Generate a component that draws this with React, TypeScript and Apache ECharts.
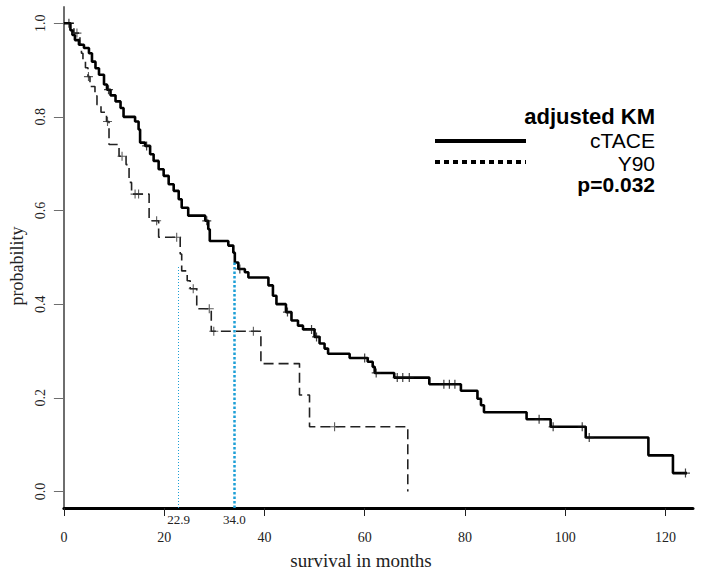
import React, { useEffect, useRef } from "react";
import * as echarts from "echarts";

// ---------- data ----------
const ctaceTimes = [0, 1.3, 1.7, 2.2, 3.0, 4.0, 5.0, 5.6, 6.3, 7.0, 8.0, 8.6, 9.3, 10.3, 11.3, 11.9, 14.2, 14.9, 15.2, 16.2, 17.2, 17.9, 18.9, 19.9, 20.9, 21.9, 22.9, 23.5, 24.8, 28.2, 28.8, 29.1, 32.8, 33.8, 34.1, 34.8, 36.1, 36.8, 40.8, 41.7, 42.4, 44.3, 45.4, 46.7, 47.7, 50.0, 51.0, 52.0, 52.7, 57.0, 60.6, 61.6, 62.0, 65.9, 72.9, 79.2, 82.5, 83.2, 83.8, 92.3, 97.1, 104.1, 116.6, 121.5, 124.3];
const ctaceSurv = [1.0, 0.985, 0.975, 0.964, 0.954, 0.947, 0.936, 0.918, 0.904, 0.89, 0.869, 0.858, 0.846, 0.833, 0.819, 0.8, 0.79, 0.773, 0.745, 0.738, 0.72, 0.706, 0.688, 0.674, 0.656, 0.642, 0.624, 0.606, 0.589, 0.578, 0.56, 0.535, 0.525, 0.51, 0.489, 0.475, 0.468, 0.457, 0.44, 0.418, 0.4, 0.383, 0.365, 0.354, 0.346, 0.33, 0.316, 0.305, 0.294, 0.285, 0.277, 0.266, 0.253, 0.243, 0.229, 0.215, 0.198, 0.184, 0.169, 0.154, 0.138, 0.115, 0.077, 0.039, 0.039];

const ctaceCensorTimes = [1.0, 8.9, 16.5, 28.5, 35.1, 44.6, 49.4, 50.4, 60.0, 62.3, 66.5, 67.6, 68.9, 75.8, 76.9, 78.0, 94.8, 97.6, 103.4, 104.8, 124.0];
const ctaceCensorSurv = [1.0, 0.858, 0.738, 0.578, 0.475, 0.383, 0.346, 0.33, 0.285, 0.253, 0.243, 0.243, 0.243, 0.229, 0.229, 0.229, 0.154, 0.138, 0.138, 0.115, 0.039];

const y90Times = [0, 2.0, 3.2, 3.5, 3.8, 4.3, 4.8, 5.2, 6.2, 6.6, 7.4, 8.5, 9.0, 11.0, 12.4, 13.0, 13.5, 17.0, 18.9, 23.2, 23.5, 24.6, 25.2, 26.5, 29.4, 39.3, 47.0, 49.0, 68.6];
const y90Surv = [1.0, 0.979, 0.955, 0.936, 0.918, 0.905, 0.886, 0.865, 0.845, 0.826, 0.81, 0.79, 0.741, 0.716, 0.698, 0.66, 0.635, 0.578, 0.543, 0.507, 0.471, 0.45, 0.433, 0.39, 0.342, 0.273, 0.206, 0.138, 0.0];

const y90CensorTimes = [2.6, 4.9, 8.7, 11.6, 14.2, 14.9, 18.5, 22.5, 25.8, 29.0, 29.9, 37.8, 54.0];
const y90CensorSurv = [0.979, 0.886, 0.79, 0.716, 0.635, 0.635, 0.578, 0.543, 0.433, 0.39, 0.342, 0.342, 0.138];

const medianTimes = [22.9, 34.0];
const medianTops = [0.482, 0.49];
const medianLabels = ["22.9", "34.0"];

const xTicks = [0, 20, 40, 60, 80, 100, 120];
const yTicks = [0, 0.2, 0.4, 0.6, 0.8, 1.0];
const xMin = 0;
const xMax = 125.5;
const yMin = -0.0355;
const yMax = 1.0347;

const legendTitle = "adjusted KM";
const groupNames = ["cTACE", "Y90"];
const pValueText = "p=0.032";

const SERIF = '"Liberation Serif", "Times New Roman", serif';
const SANS = '"Liberation Sans", Arial, sans-serif';
const PLUS = "path://M5,0L5,10M0,5L10,5";
const BLUE = "#1c9fd6";

export default function App() {
  const ref = useRef<HTMLDivElement>(null);

  useEffect(() => {
    document.body.style.margin = "0";
    if (!ref.current) return;
    const chart = echarts.init(ref.current, null, { renderer: "svg" });

    const zip = (a: number[], b: number[]) => a.map((v, i) => [v, b[i]]);

    const medianLines = medianTimes.map((t, i) => [
      {
        coord: [t, yMin],
        lineStyle: i === 0
          ? { color: BLUE, width: 1, type: [1, 2] }
          : { color: BLUE, width: 2.5, type: [2.5, 2] },
        label: {
          show: true,
          position: "start",
          formatter: medianLabels[i],
          fontFamily: SERIF,
          fontSize: 13,
          color: "#222",
          distance: 5,
        },
      },
      { coord: [t, medianTops[i]] },
    ]);

    chart.setOption({
      animation: false,
      backgroundColor: "#fff",
      grid: { left: 62, right: 11, top: 7, bottom: 65, containLabel: false },
      xAxis: {
        type: "value",
        min: xMin,
        max: xMax,
        name: "survival in months",
        nameLocation: "middle",
        nameGap: 43,
        nameTextStyle: { fontFamily: SERIF, fontSize: 19, color: "#222", padding: [0, 35, 0, 0] },
        axisLine: { show: true, onZero: false, lineStyle: { color: "#000", width: 3 } },
        axisTick: { show: true, length: 8, customValues: xTicks, lineStyle: { color: "#222", width: 1 } },
        axisLabel: { customValues: xTicks, margin: 22, fontFamily: SERIF, fontSize: 14, color: "#222" },
        splitLine: { show: false },
      },
      yAxis: {
        type: "value",
        min: yMin,
        max: yMax,
        name: "probability",
        nameLocation: "middle",
        nameRotate: 90,
        nameGap: 36,
        nameTextStyle: { fontFamily: SERIF, fontSize: 18, color: "#222", padding: [0, 17, 0, 0] },
        axisLine: { show: true, onZero: false, lineStyle: { color: "#6e6e6e", width: 2 } },
        axisTick: { show: true, length: 10, customValues: yTicks, lineStyle: { color: "#6e6e6e", width: 1 } },
        axisLabel: {
          customValues: yTicks,
          rotate: 90,
          margin: 16,
          fontFamily: SERIF,
          fontSize: 14,
          color: "#222",
          formatter: (v: number) => v.toFixed(1),
        },
        splitLine: { show: false },
      },
      graphic: [
        { type: "text", x: 655, y: 116, style: { text: legendTitle, align: "right", verticalAlign: "middle", font: `bold 22px ${SANS}`, fill: "#000" } },
        { type: "text", x: 655, y: 140, style: { text: groupNames[0], align: "right", verticalAlign: "middle", font: `21px ${SANS}`, fill: "#000" } },
        { type: "text", x: 655, y: 163, style: { text: groupNames[1], align: "right", verticalAlign: "middle", font: `21px ${SANS}`, fill: "#000" } },
        { type: "text", x: 655, y: 184, style: { text: pValueText, align: "right", verticalAlign: "middle", font: `bold 21px ${SANS}`, fill: "#000" } },
        { type: "line", shape: { x1: 435, y1: 141, x2: 526, y2: 141 }, style: { stroke: "#000", lineWidth: 4 } },
        { type: "line", shape: { x1: 435, y1: 162, x2: 526, y2: 162 }, style: { stroke: "#000", lineWidth: 4, lineDash: [5, 4] } },
      ],
      series: [
        {
          name: groupNames[1],
          type: "line",
          step: "end",
          data: zip(y90Times, y90Surv),
          showSymbol: false,
          symbol: "none",
          lineStyle: { color: "#222", width: 1.6, type: [10, 5] },
          z: 3,
        },
        {
          name: groupNames[0],
          type: "line",
          step: "end",
          data: zip(ctaceTimes, ctaceSurv),
          showSymbol: false,
          symbol: "none",
          lineStyle: { color: "#000", width: 2.6 },
          z: 4,
          markLine: {
            silent: true,
            symbol: "none",
            animation: false,
            data: medianLines,
          },
        },
        {
          type: "scatter",
          data: zip(ctaceCensorTimes, ctaceCensorSurv),
          symbol: PLUS,
          symbolSize: 9,
          itemStyle: { color: "transparent", borderColor: "#111", borderWidth: 1.2 },
          z: 5,
        },
        {
          type: "scatter",
          data: zip(y90CensorTimes, y90CensorSurv),
          symbol: PLUS,
          symbolSize: 9,
          itemStyle: { color: "transparent", borderColor: "#333", borderWidth: 1.1 },
          z: 5,
        },
      ],
    });

    return () => chart.dispose();
  }, []);

  return <div ref={ref} style={{ width: 704, height: 575 }} />;
}
